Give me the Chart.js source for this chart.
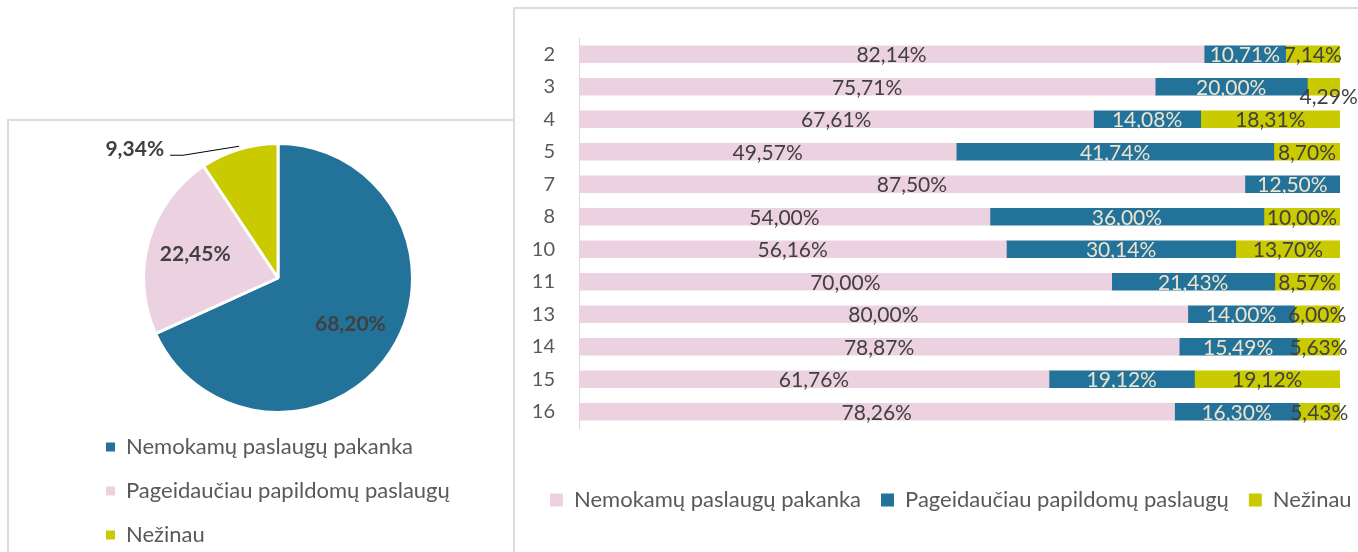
<!DOCTYPE html>
<html>
<head>
<meta charset="utf-8">
<script src="https://cdn.jsdelivr.net/npm/chart.js"></script>
<style>
  html, body { margin: 0; padding: 0; background: #fff; overflow: hidden; }
  body { width: 1358px; height: 552px; position: relative; }
  .box { position: absolute; border: 2px solid #dcdcdc; box-sizing: border-box; }
  #pieBox { left: 7px; top: 119px; width: 508px; height: 460px; }
  #barBox { left: 513px; top: 7px; width: 870px; height: 580px; }
  #pie { position: absolute; left: 84px; top: 121px; }
  #bars { position: absolute; left: 514px; top: 2px; }
</style>
</head>
<body>
<div class="box" id="pieBox"></div>
<div class="box" id="barBox"></div>
<canvas id="pie" width="420" height="435"></canvas>
<canvas id="bars" width="900" height="550"></canvas>
<script>
const pieLabels = ["Nemokamų paslaugų pakanka", "Pageidaučiau papildomų paslaugų", "Nežinau"];
const pieValues = [68.20, 22.45, 9.34];

const barCategories = ["2", "3", "4", "5", "7", "8", "10", "11", "13", "14", "15", "16"];
const pakanka = [82.14, 75.71, 67.61, 49.57, 87.50, 54.00, 56.16, 70.00, 80.00, 78.87, 61.76, 78.26];
const papildomu = [10.71, 20.00, 14.08, 41.74, 12.50, 36.00, 30.14, 21.43, 14.00, 15.49, 19.12, 16.30];
const nezinau = [7.14, 4.29, 18.31, 8.70, 0, 10.00, 13.70, 8.57, 6.00, 5.63, 19.12, 5.43];

const BLUE = "#22729a";
const PINK = "#ecd2e0";
const YELLOW = "#caca00";
const FONT = "Lato";

function pct(v) {
  return v.toFixed(2).replace(".", ",") + "%";
}

// labels inside the big slices, leader line for the small one
const pieLabelPlugin = {
  id: "pieLabels",
  afterDatasetsDraw(chart) {
    const ctx = chart.ctx;
    const meta = chart.getDatasetMeta(0);
    const total = pieValues.reduce((a, b) => a + b, 0);
    ctx.save();
    ctx.font = "bold 21px " + FONT;
    ctx.fillStyle = "#404040";
    ctx.textBaseline = "middle";
    meta.data.forEach((arc, i) => {
      const mid = (arc.startAngle + arc.endAngle) / 2;
      const r = arc.outerRadius;
      const text = pct(pieValues[i]);
      if (pieValues[i] / total > 0.15) {
        ctx.textAlign = "center";
        ctx.fillText(text, arc.x + Math.cos(mid) * r * 0.64, arc.y + Math.sin(mid) * r * 0.64);
      } else {
        const ex = arc.x + Math.cos(mid) * r;
        const ey = arc.y + Math.sin(mid) * r - 3;
        ctx.strokeStyle = "#000";
        ctx.lineWidth = 1;
        ctx.beginPath();
        ctx.moveTo(ex, ey);
        ctx.lineTo(ex - 56, ey + 9);
        ctx.lineTo(ex - 69, ey + 9);
        ctx.stroke();
        ctx.textAlign = "right";
        ctx.fillText(text, ex - 75, ey + 3);
      }
    });
    ctx.restore();
  }
};

// one label was moved by hand in the original
const movedLabels = { "2:1": [5, 9] };

const barLabelPlugin = {
  id: "barLabels",
  afterDatasetsDraw(chart) {
    const ctx = chart.ctx;
    ctx.save();
    ctx.font = "21px " + FONT;
    ctx.textAlign = "center";
    ctx.textBaseline = "middle";
    chart.data.datasets.forEach((ds, d) => {
      chart.getDatasetMeta(d).data.forEach((bar, i) => {
        const v = ds.data[i];
        if (!v) return;
        const shift = movedLabels[d + ":" + i] || [0, 0];
        ctx.fillStyle = d === 1 ? "#eee3cd" : "#404040";
        ctx.fillText(pct(v), (bar.x + bar.base) / 2 + shift[0], bar.y + 1 + shift[1]);
      });
    });
    ctx.restore();
  }
};

new Chart(document.getElementById("pie"), {
  type: "pie",
  data: {
    labels: pieLabels,
    datasets: [{
      data: pieValues,
      backgroundColor: [BLUE, PINK, YELLOW],
      borderColor: "#fff",
      borderWidth: 3
    }]
  },
  options: {
    responsive: false,
    animation: false,
    layout: { padding: { top: 21, right: 32, left: 0, bottom: 0 } },
    plugins: {
      legend: {
        position: "bottom",
        align: "start",
        labels: {
          boxWidth: 9,
          boxHeight: 9,
          padding: 22,
          color: "#595959",
          font: { family: FONT, size: 22 },
          generateLabels: chart =>
            Chart.overrides.pie.plugins.legend.labels.generateLabels(chart)
              .map(l => Object.assign(l, { lineWidth: 0 }))
        }
      },
      tooltip: { enabled: false }
    }
  },
  plugins: [pieLabelPlugin]
});

new Chart(document.getElementById("bars"), {
  type: "bar",
  data: {
    labels: barCategories,
    datasets: [
      { label: pieLabels[0], data: pakanka, backgroundColor: PINK, barThickness: 17 },
      { label: pieLabels[1], data: papildomu, backgroundColor: BLUE, barThickness: 17 },
      { label: pieLabels[2], data: nezinau, backgroundColor: YELLOW, barThickness: 17 }
    ]
  },
  options: {
    indexAxis: "y",
    responsive: false,
    animation: false,
    layout: { padding: { top: 24, right: 0, left: 16, bottom: 31 } },
    scales: {
      x: {
        stacked: true,
        min: 0,
        max: 100,
        grid: { display: false },
        border: { display: false },
        ticks: { display: false },
        afterFit: s => { s.height = 41; }
      },
      y: {
        stacked: true,
        grid: { display: true, color: "transparent", drawTicks: false },
        border: { color: "#d9d9d9", width: 1 },
        ticks: { color: "#595959", font: { family: FONT, size: 20 }, padding: 24 },
        afterFit: s => { s.width = 49; }
      },
      // empty space on the right, keeps the legend on one line
      spacer: {
        type: "linear",
        position: "right",
        grid: { display: false },
        border: { display: false },
        ticks: { display: false },
        afterFit: s => { s.width = 74; }
      }
    },
    plugins: {
      legend: {
        position: "bottom",
        align: "start",
        labels: {
          boxWidth: 13,
          boxHeight: 13,
          padding: 20,
          color: "#595959",
          font: { family: FONT, size: 22 }
        }
      },
      tooltip: { enabled: false }
    }
  },
  plugins: [barLabelPlugin]
});
</script>
</body>
</html>
